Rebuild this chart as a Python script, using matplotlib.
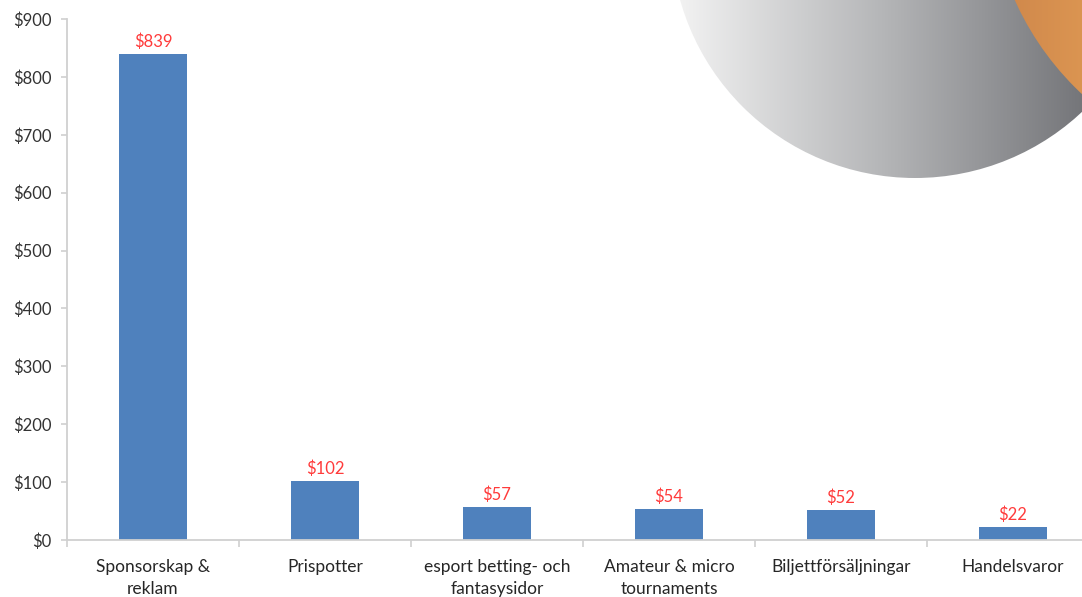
import numpy as np
import matplotlib.pyplot as plt
from matplotlib.patches import Circle
from matplotlib.colors import LinearSegmentedColormap

# data
categories = ['Sponsorskap &\nreklam', 'Prispotter', 'esport betting- och\nfantasysidor',
              'Amateur & micro\ntournaments', 'Biljettförsäljningar', 'Handelsvaror']
values = [839, 102, 57, 54, 52, 22]
yticks = list(range(0, 901, 100))

plt.rcParams['font.family'] = ['Lato', 'DejaVu Sans']

fig = plt.figure(figsize=(10.82, 5.97), dpi=100)

# decorative circles in the top right corner (pixel coordinates)
bg = fig.add_axes([0, 0, 1, 1], zorder=0)
grad = np.linspace(0, 1, 256).reshape(1, -1)

gray = LinearSegmentedColormap.from_list('gray_grad', ['#f3f3f3', '#b4b5b7', '#717276'])
circ = Circle((915, -66), 244, facecolor='none', edgecolor='none', transform=bg.transData)
bg.add_patch(circ)
im = bg.imshow(grad, cmap=gray, extent=(675, 1095, 190, -70), aspect='auto')
im.set_clip_path(circ)

orange = LinearSegmentedColormap.from_list('orange_grad', ['#cf874b', '#dc9652'])
circ2 = Circle((1282, -120), 293, facecolor='none', edgecolor='none', transform=bg.transData)
bg.add_patch(circ2)
im2 = bg.imshow(grad, cmap=orange, extent=(1000, 1090, 120, -10), aspect='auto')
im2.set_clip_path(circ2)

bg.set_xlim(0, 1082)
bg.set_ylim(597, 0)
bg.axis('off')

# bar chart
ax = fig.add_axes([67 / 1082, 57 / 597, 1032 / 1082, 521 / 597], zorder=1)
ax.patch.set_alpha(0)
x = np.arange(len(categories))
ax.bar(x, values, width=0.4, color='#4f81bd')
ax.set_xlim(-0.5, 5.5)
ax.set_ylim(0, 900)

for xi, v in zip(x, values):
    ax.annotate(f'${v}', (xi, v), xytext=(0, 3), textcoords='offset points',
                ha='center', va='bottom', color='#ff3b3b', fontsize=12)

ax.set_yticks(yticks)
ax.set_yticklabels([f'${v}' for v in yticks])
ax.set_xticks(x)
ax.set_xticklabels(categories, linespacing=1.45)
ax.set_xticks(np.arange(-0.5, 6, 1), minor=True)

for s in ['top', 'right']:
    ax.spines[s].set_visible(False)
for s in ['left', 'bottom']:
    ax.spines[s].set_color('#d0d0d0')
    ax.spines[s].set_linewidth(1.3)

ax.tick_params(axis='y', length=4, width=1.2, color='#d0d0d0', labelcolor='#333333',
               labelsize=12, pad=7)
ax.tick_params(axis='x', which='major', length=0, labelcolor='#262626', labelsize=12.5, pad=14)
ax.tick_params(axis='x', which='minor', length=5, width=1.2, color='#d0d0d0')

fig.savefig('out.png', dpi=100)
